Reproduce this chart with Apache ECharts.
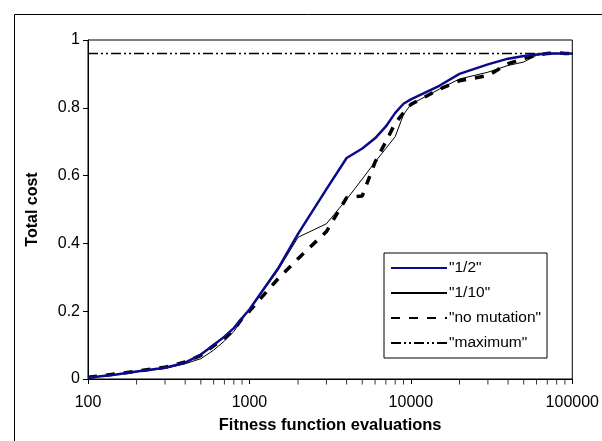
<!DOCTYPE html>
<html>
<head>
<meta charset="utf-8">
<script src="https://cdn.jsdelivr.net/npm/echarts@6/dist/echarts.min.js"></script>
<style>
  html, body { margin: 0; padding: 0; background: #fff; }
  #chart { width: 602px; height: 441px; }
</style>
</head>
<body>
<div id="chart"></div>
<script>
// evaluations (x) shared by all curves
const evaluations = [100, 150, 200, 300, 400, 500, 600, 700, 800, 900,
  1000, 1500, 2000, 3000, 4000, 5000, 6000, 7000, 8000, 9000,
  10000, 15000, 20000, 30000, 40000, 50000, 60000, 70000, 80000, 90000, 100000];

const half = [0.004, 0.013, 0.022, 0.033, 0.048, 0.072, 0.10, 0.125, 0.15, 0.18,
  0.205, 0.325, 0.428, 0.56, 0.652, 0.68, 0.71, 0.745, 0.785, 0.812,
  0.825, 0.865, 0.90, 0.928, 0.945, 0.953, 0.957, 0.96, 0.96, 0.96, 0.96];

const tenth = [0.004, 0.014, 0.021, 0.031, 0.045, 0.06, 0.085, 0.112, 0.14, 0.175,
  0.205, 0.32, 0.418, 0.458, 0.53, 0.59, 0.64, 0.68, 0.715, 0.78,
  0.81, 0.855, 0.885, 0.905, 0.925, 0.935, 0.955, 0.96, 0.96, 0.96, 0.96];

const noMutation = [0.005, 0.015, 0.023, 0.035, 0.05, 0.07, 0.098, 0.12, 0.145, 0.178,
  0.2, 0.295, 0.355, 0.435, 0.535, 0.54, 0.64, 0.70, 0.755, 0.785,
  0.81, 0.855, 0.88, 0.895, 0.93, 0.945, 0.955, 0.96, 0.963, 0.96, 0.96];

const maximumX = [100, 100000];
const maximumY = [0.96, 0.96];

// minor ticks of the log axis
const minorTicks = [200, 300, 400, 500, 600, 700, 800, 900,
  2000, 3000, 4000, 5000, 6000, 7000, 8000, 9000,
  20000, 30000, 40000, 50000, 60000, 70000, 80000, 90000];

const pairs = (xs, ys) => xs.map((x, i) => [x, ys[i]]);

const chart = echarts.init(document.getElementById('chart'));
const font = 'Liberation Sans, Arial, sans-serif';

const option = {
  animation: false,
  backgroundColor: '#fff',
  textStyle: { fontFamily: font },
  graphic: [{
    type: 'rect',
    left: 12, top: 12,
    shape: { width: 600, height: 440 },
    style: { fill: null, stroke: '#000', lineWidth: 1 },
    z: 0
  }],
  grid: {
    left: 88, right: 26, top: 40, bottom: 62,
    show: true, borderColor: '#000', borderWidth: 1
  },
  legend: {
    orient: 'vertical',
    left: 384, top: 253,
    data: ['"1/2"', '"1/10"', '"no mutation"', '"maximum"'],
    itemWidth: 56, itemHeight: 14, itemGap: 9,
    padding: [7, 6, 7, 6],
    borderColor: '#000', borderWidth: 1,
    backgroundColor: '#fff',
    itemStyle: { opacity: 0 },
    textStyle: { fontFamily: font, fontSize: 15.5, color: '#000', padding: [0, 0, 0, -3] }
  },
  xAxis: {
    type: 'log', logBase: 10, min: 100, max: 100000,
    name: 'Fitness function evaluations',
    nameLocation: 'middle', nameGap: 38,
    nameTextStyle: { fontFamily: font, fontSize: 16.5, fontWeight: 'bold', color: '#000' },
    axisLine: { lineStyle: { color: '#000', width: 1 } },
    axisTick: { show: true, length: 5, lineStyle: { color: '#000' } },
    axisLabel: { fontFamily: font, fontSize: 16, color: '#000', margin: 16,
      formatter: v => String(Math.round(v)) },
    splitLine: { show: false }
  },
  yAxis: {
    type: 'value', min: 0, max: 1, interval: 0.2,
    name: 'Total cost',
    nameLocation: 'middle', nameGap: 47, nameRotate: 90,
    nameTextStyle: { fontFamily: font, fontSize: 16, fontWeight: 'bold', color: '#000' },
    axisLine: { show: true, lineStyle: { color: '#000', width: 1 } },
    axisTick: { show: true, length: 5, lineStyle: { color: '#000' } },
    axisLabel: { fontFamily: font, fontSize: 16, color: '#000', margin: 8,
      formatter: v => String(+v.toFixed(1)) },
    splitLine: { show: false }
  },
  series: [
    {
      name: '"1/2"', type: 'line', data: pairs(evaluations, half),
      symbol: 'none', lineStyle: { color: '#0b0b8a', width: 2.5 },
      itemStyle: { color: '#0b0b8a' }, z: 4
    },
    {
      name: '"1/10"', type: 'line', data: pairs(evaluations, tenth),
      symbol: 'none', lineStyle: { color: '#000', width: 1 },
      itemStyle: { color: '#000' }, z: 3
    },
    {
      name: '"no mutation"', type: 'line', data: pairs(evaluations, noMutation),
      symbol: 'none', lineStyle: { color: '#000', width: 3.5, type: [9, 9] },
      itemStyle: { color: '#000' }, z: 2
    },
    {
      name: '"maximum"', type: 'line', data: pairs(maximumX, maximumY),
      symbol: 'none', lineStyle: { color: '#000', width: 1.5, type: [10, 3, 2, 3, 2, 3] },
      itemStyle: { color: '#000' }, z: 2
    },
    {
      name: 'minorTicks', type: 'scatter', silent: true,
      data: minorTicks.map(v => [v, 0]),
      symbol: 'rect', symbolSize: [1, 5], symbolOffset: [0, 3],
      itemStyle: { color: '#000' }, clip: false, z: 5
    }
  ]
};

chart.setOption(option);
</script>
</body>
</html>
